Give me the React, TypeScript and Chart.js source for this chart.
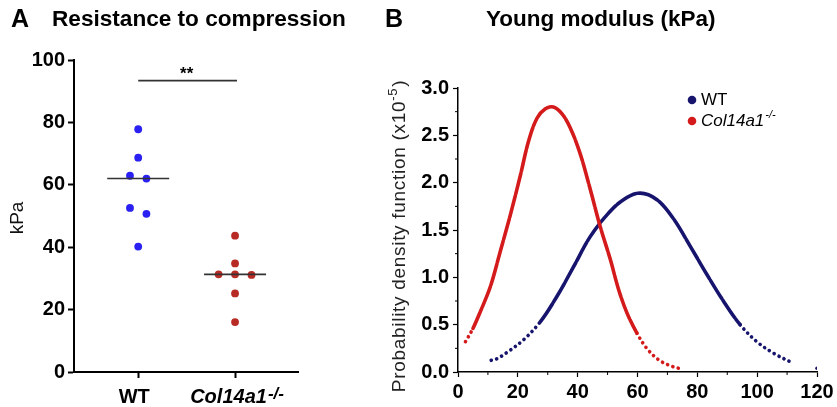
import React, { useEffect, useRef } from 'react';
import { Chart, registerables } from 'chart.js';

Chart.register(...registerables);

const FONT = '"Liberation Sans", Arial, Helvetica, sans-serif';

// ---------- Panel A data ----------
const GROUPS = ['WT', 'Col14a1'];
const GROUP_SUP = ['', '-/-'];
const WT_KPA = [77.8, 68.7, 62.9, 62.0, 52.6, 50.7, 40.2];
const KO_KPA = [43.7, 34.8, 31.3, 31.1, 31.3, 25.2, 16.0];
const A_Y_TICKS = [0, 20, 40, 60, 80, 100];
const SIG_LEVEL = 93.4;
const SIG_LABEL = '**';

// ---------- Panel B data ----------
const WT_MODULUS = [11.1, 13.0, 16.4, 21.9, 27.5, 33.1, 38.6, 44.2, 49.8, 55.3, 60.9, 66.5, 72.0, 77.6, 83.2, 88.7, 94.3, 99.9, 105.4, 111.5];
const WT_PDF = [0.123, 0.14, 0.207, 0.34, 0.53, 0.8, 1.11, 1.43, 1.66, 1.82, 1.89, 1.82, 1.62, 1.33, 1.03, 0.75, 0.5, 0.32, 0.2, 0.1];
const WT_TAIL_MODULUS = [120];
const WT_TAIL_PDF = [0.04];
const KO_MODULUS = [2.5, 5.0, 7.5, 10.8, 14.1, 17.5, 20.8, 23.6, 26.4, 29.2, 31.9, 34.7, 37.5, 40.8, 44.2, 47.5, 50.9, 53.6, 56.4, 59.8, 63.1, 67.0, 70.9, 73.7];
const KO_PDF = [0.32, 0.46, 0.64, 0.9, 1.27, 1.66, 2.07, 2.44, 2.68, 2.78, 2.8, 2.73, 2.58, 2.31, 1.93, 1.54, 1.19, 0.88, 0.63, 0.41, 0.25, 0.13, 0.067, 0.04];
const B_X_TICKS = [0, 20, 40, 60, 80, 100, 120];
const B_Y_TICKS = [0, 0.5, 1.0, 1.5, 2.0, 2.5, 3.0];
const SERIES_NAMES = ['WT', 'Col14a1'];
const SERIES_SUP = ['', '-/-'];

const A_BLUE = '#2a20f2';
const A_RED = '#b82a24';
const B_NAVY = '#17146e';
const B_RED = '#d41a1a';
const TAIL_LEVEL = 0.55;

function swarm(values: number[], center: number, step = 0.17, tol = 2.5) {
  const order = values.map((_, i) => i).sort((a, b) => values[b] - values[a]);
  const groups: number[][] = [];
  for (const i of order) {
    const g = groups[groups.length - 1];
    if (g && Math.abs(values[g[g.length - 1]] - values[i]) < tol) g.push(i);
    else groups.push([i]);
  }
  const out: { x: number; y: number }[] = new Array(values.length);
  groups.forEach((g) =>
    g.forEach((i, k) => {
      out[i] = { x: center + (k - (g.length - 1) / 2) * step, y: values[i] };
    })
  );
  return out;
}

function median(values: number[]) {
  const s = [...values].sort((a, b) => a - b);
  const m = Math.floor(s.length / 2);
  return s.length % 2 ? s[m] : (s[m - 1] + s[m]) / 2;
}

function drawSupText(
  ctx: CanvasRenderingContext2D,
  base: string,
  sup: string,
  x: number,
  y: number,
  font: string,
  supFont: string,
  rise: number,
  align: 'left' | 'center'
) {
  ctx.save();
  ctx.font = font;
  const w1 = ctx.measureText(base).width;
  ctx.font = supFont;
  const w2 = sup ? ctx.measureText(sup).width + 1 : 0;
  const start = align === 'center' ? x - (w1 + w2) / 2 : x;
  ctx.textAlign = 'left';
  ctx.textBaseline = 'middle';
  ctx.font = font;
  ctx.fillText(base, start, y);
  if (sup) {
    ctx.font = supFont;
    ctx.fillText(sup, start + w1 + 1, y - rise);
  }
  ctx.restore();
}

const tailDash = (ctx: any) =>
  ctx.p0.parsed.y < TAIL_LEVEL && ctx.p1.parsed.y < TAIL_LEVEL ? [0.1, 5.5] : undefined;

export default function App() {
  const refA = useRef<HTMLCanvasElement>(null);
  const refB = useRef<HTMLCanvasElement>(null);

  useEffect(() => {
    document.body.style.margin = '0';
    const wtMed = median(WT_KPA);
    const koMed = median(KO_KPA);

    const panelAPlugin = {
      id: 'panelA',
      afterDraw(chart: any) {
        const ctx = chart.ctx as CanvasRenderingContext2D;
        const xs = chart.scales.x;
        const ys = chart.scales.y;
        ctx.save();
        ctx.fillStyle = '#000';
        ctx.textBaseline = 'middle';
        ctx.textAlign = 'left';
        ctx.font = `bold 25px ${FONT}`;
        ctx.fillText('A', 11, 20);
        ctx.font = `bold 22.6px ${FONT}`;
        ctx.fillText('Resistance to compression', 52, 20);
        ctx.textAlign = 'center';
        ctx.textBaseline = 'alphabetic';
        ctx.font = `bold 17px ${FONT}`;
        ctx.fillText(SIG_LABEL, xs.getPixelForValue(1.5), ys.getPixelForValue(SIG_LEVEL) - 2);
        // y title
        ctx.save();
        ctx.translate(17.5, (ys.top + ys.bottom) / 2 + 2);
        ctx.rotate(-Math.PI / 2);
        ctx.textBaseline = 'middle';
        ctx.font = `19px ${FONT}`;
        ctx.fillStyle = '#111';
        ctx.fillText('kPa', 0, 0);
        ctx.restore();
        ctx.fillStyle = '#000';
        GROUPS.forEach((g, i) => {
          drawSupText(
            ctx,
            g,
            GROUP_SUP[i],
            xs.getPixelForValue(i + 1) + (i === 0 ? -4 : 2),
            xs.top + 25,
            `${i === 1 ? 'italic ' : ''}bold 20px ${FONT}`,
            `${i === 1 ? 'italic ' : ''}bold 17px ${FONT}`,
            3,
            'center'
          );
        });
        ctx.restore();
      },
    };

    const chartA = new Chart(refA.current!, {
      type: 'scatter',
      data: {
        datasets: [
          {
            data: [
              { x: 1 - 0.32, y: wtMed },
              { x: 1 + 0.32, y: wtMed },
            ],
            showLine: true,
            borderColor: '#333',
            borderWidth: 1.6,
            pointRadius: 0,
          },
          {
            data: [
              { x: 2 - 0.32, y: koMed },
              { x: 2 + 0.32, y: koMed },
            ],
            showLine: true,
            borderColor: '#333',
            borderWidth: 1.6,
            pointRadius: 0,
          },
          {
            data: [
              { x: 1, y: SIG_LEVEL },
              { x: 2.02, y: SIG_LEVEL },
            ],
            showLine: true,
            borderColor: '#333',
            borderWidth: 1.6,
            pointRadius: 0,
          },
          {
            data: swarm(WT_KPA, 1),
            backgroundColor: A_BLUE,
            borderColor: A_BLUE,
            pointRadius: 3.9,
            borderWidth: 0,
          },
          {
            data: swarm(KO_KPA, 2),
            backgroundColor: A_RED,
            borderColor: A_RED,
            pointRadius: 3.9,
            borderWidth: 0,
          },
        ],
      },
      options: {
        responsive: false,
        animation: false,
        events: [],
        layout: { padding: { top: 60, right: 82, left: 0, bottom: 0 } },
        plugins: { legend: { display: false }, tooltip: { enabled: false }, title: { display: false } },
        scales: {
          x: {
            type: 'linear',
            min: 0.337,
            max: 2.65,
            afterBuildTicks: (s: any) => {
              s.ticks = GROUPS.map((_, i) => ({ value: i + 1 }));
            },
            afterFit: (s: any) => {
              s.height = 35;
            },
            ticks: { display: false },
            grid: { drawOnChartArea: false, drawTicks: true, tickLength: 6, tickColor: '#000', tickWidth: 2 },
            border: { color: '#000', width: 2 },
          },
          y: {
            min: 0,
            max: 100,
            afterBuildTicks: (s: any) => {
              s.ticks = A_Y_TICKS.map((v) => ({ value: v }));
            },
            afterFit: (s: any) => {
              s.width = 74;
            },
            ticks: { color: '#000', font: { family: FONT, size: 20, weight: 'bold' }, padding: 3 },
            grid: { drawOnChartArea: false, drawTicks: true, tickLength: 6, tickColor: '#000', tickWidth: 2 },
            border: { color: '#000', width: 2 },
          },
        },
      },
      plugins: [panelAPlugin],
    } as any);

    const panelBPlugin = {
      id: 'panelB',
      afterDraw(chart: any) {
        const ctx = chart.ctx as CanvasRenderingContext2D;
        const xs = chart.scales.x;
        const ys = chart.scales.y;
        ctx.save();
        ctx.fillStyle = '#000';
        ctx.textBaseline = 'middle';
        ctx.textAlign = 'left';
        ctx.font = `bold 25px ${FONT}`;
        ctx.fillText('B', 5, 20);
        ctx.font = `bold 22.5px ${FONT}`;
        ctx.fillText('Young modulus (kPa)', 106, 20);
        // minor ticks
        ctx.strokeStyle = '#000';
        ctx.lineWidth = 1;
        for (let i = 0; i < B_X_TICKS.length - 1; i++) {
          const px = xs.getPixelForValue((B_X_TICKS[i] + B_X_TICKS[i + 1]) / 2);
          ctx.beginPath();
          ctx.moveTo(px, xs.top);
          ctx.lineTo(px, xs.top + 3);
          ctx.stroke();
        }
        for (let i = 0; i < B_Y_TICKS.length - 1; i++) {
          const py = ys.getPixelForValue((B_Y_TICKS[i] + B_Y_TICKS[i + 1]) / 2);
          ctx.beginPath();
          ctx.moveTo(ys.right, py);
          ctx.lineTo(ys.right - 3, py);
          ctx.stroke();
        }
        // y title, rotated with superscript
        ctx.save();
        ctx.translate(20, (ys.top + ys.bottom) / 2 + 6);
        ctx.rotate(-Math.PI / 2);
        ctx.fillStyle = '#222';
        (ctx as any).letterSpacing = '0.7px';
        const main = 'Probability density function (x10';
        ctx.font = `19px ${FONT}`;
        const w1 = ctx.measureText(main).width;
        ctx.font = `13px ${FONT}`;
        const w2 = ctx.measureText('-5').width;
        ctx.font = `19px ${FONT}`;
        const w3 = ctx.measureText(')').width;
        const total = w1 + w2 + w3 + 1;
        let cx = -total / 2;
        ctx.textAlign = 'left';
        ctx.textBaseline = 'middle';
        ctx.fillText(main, cx, 0);
        cx += w1;
        ctx.font = `13px ${FONT}`;
        ctx.fillText('-5', cx, -7);
        cx += w2 + 1;
        ctx.font = `19px ${FONT}`;
        ctx.fillText(')', cx, 0);
        ctx.restore();
        // legend
        const colors = [B_NAVY, B_RED];
        SERIES_NAMES.forEach((n, i) => {
          const ly = 100 + i * 21;
          ctx.fillStyle = colors[i];
          ctx.beginPath();
          ctx.arc(312, ly, 4.3, 0, Math.PI * 2);
          ctx.fill();
          ctx.fillStyle = '#000';
          drawSupText(
            ctx,
            n,
            SERIES_SUP[i],
            321,
            ly,
            `${i === 1 ? 'italic ' : ''}17px ${FONT}`,
            `${i === 1 ? 'italic ' : ''}11px ${FONT}`,
            6,
            'left'
          );
        });
        ctx.restore();
      },
    };

    const toPts = (xs: number[], ys: number[]) => xs.map((x, i) => ({ x, y: ys[i] }));

    const curveStyle = {
      showLine: true,
      tension: 0.35,
      borderWidth: 3.6,
      borderDash: [22, 1.5],
      borderCapStyle: 'round',
      pointRadius: 0,
      segment: { borderDash: tailDash },
    };

    const chartB = new Chart(refB.current!, {
      type: 'scatter',
      data: {
        datasets: [
          { ...curveStyle, data: toPts(KO_MODULUS, KO_PDF), borderColor: B_RED },
          { ...curveStyle, data: toPts(WT_MODULUS, WT_PDF), borderColor: B_NAVY },
          {
            data: toPts(WT_TAIL_MODULUS, WT_TAIL_PDF),
            backgroundColor: B_NAVY,
            borderWidth: 0,
            pointRadius: 1.8,
          },
        ],
      },
      options: {
        responsive: false,
        animation: false,
        events: [],
        layout: { padding: { top: 88, right: 20, left: 0, bottom: 0 } },
        plugins: { legend: { display: false }, tooltip: { enabled: false }, title: { display: false } },
        scales: {
          x: {
            type: 'linear',
            min: 0,
            max: 120,
            afterBuildTicks: (s: any) => {
              s.ticks = B_X_TICKS.map((v) => ({ value: v }));
            },
            afterFit: (s: any) => {
              s.height = 35;
            },
            ticks: { color: '#000', font: { family: FONT, size: 20, weight: 'bold' }, padding: 3, maxRotation: 0 },
            grid: { drawOnChartArea: false, drawTicks: true, tickLength: 5, tickColor: '#000', tickWidth: 1.2 },
            border: { color: '#000', width: 1.5 },
          },
          y: {
            min: 0,
            max: 3,
            afterBuildTicks: (s: any) => {
              s.ticks = B_Y_TICKS.map((v) => ({ value: v }));
            },
            afterFit: (s: any) => {
              s.width = 78;
            },
            ticks: {
              color: '#000',
              font: { family: FONT, size: 20, weight: 'bold' },
              padding: 4,
              callback: (v: any) => Number(v).toFixed(1),
            },
            grid: { drawOnChartArea: false, drawTicks: true, tickLength: 5, tickColor: '#000', tickWidth: 1.2 },
            border: { color: '#000', width: 1.5 },
          },
        },
      },
      plugins: [panelBPlugin],
    } as any);

    return () => {
      chartA.destroy();
      chartB.destroy();
    };
  }, []);

  return (
    <div style={{ position: 'relative', width: 837, height: 407, background: '#fff', overflow: 'hidden' }}>
      <canvas ref={refA} width={380} height={407} style={{ position: 'absolute', left: 0, top: 0, width: 380, height: 407 }} />
      <canvas ref={refB} width={457} height={407} style={{ position: 'absolute', left: 380, top: 0, width: 457, height: 407 }} />
    </div>
  );
}
